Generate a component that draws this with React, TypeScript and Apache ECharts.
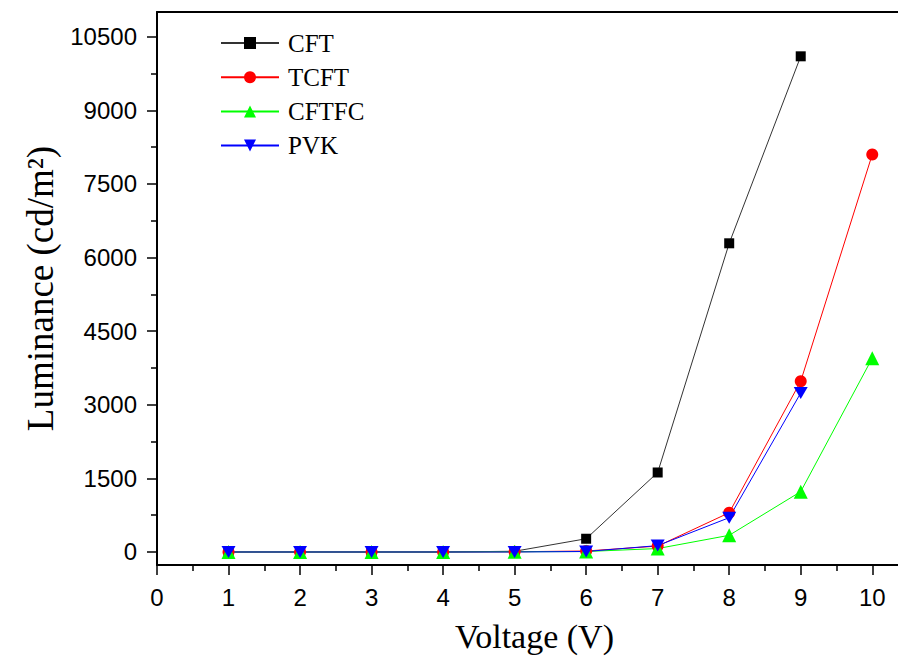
import React, { useEffect, useRef } from "react";
import * as echarts from "echarts";

const seriesNames = ["CFT", "TCFT", "CFTFC", "PVK"];
const voltagesShort = [1, 2, 3, 4, 5, 6, 7, 8, 9];
const voltagesLong = [1, 2, 3, 4, 5, 6, 7, 8, 9, 10];
const cftValues = [0, 0, 0, 0, 15, 270, 1620, 6290, 10100];
const tcftValues = [0, 0, 0, 0, 5, 20, 120, 800, 3480, 8100];
const cftfcValues = [0, 0, 0, 0, 5, 10, 70, 340, 1230, 3950];
const pvkValues = [0, 0, 0, 0, 0, 10, 130, 700, 3240];
const xTickLabels = [0, 1, 2, 3, 4, 5, 6, 7, 8, 9, 10];
const xMinorTicks = [0.5, 1.5, 2.5, 3.5, 4.5, 5.5, 6.5, 7.5, 8.5, 9.5];
const yTickLabels = [0, 1500, 3000, 4500, 6000, 7500, 9000, 10500];
const yMinorTicks = [750, 2250, 3750, 5250, 6750, 8250, 9750];

const pair = (xs: number[], ys: number[]) => xs.map((x, i) => [x, ys[i]]);

export default function App() {
  const ref = useRef<HTMLDivElement>(null);
  useEffect(() => {
    if (!ref.current) return;
    const chart = echarts.init(ref.current, null, { renderer: "svg" });
    const X_MIN = 0, X_MAX = 10.36, Y_MIN = -265, Y_MAX = 11003;
    const sans = "Liberation Sans";
    const serif = "Liberation Serif";
    const downTri = "path://M0,0L2,0L1,1.732Z";
    chart.setOption({
      animation: false,
      backgroundColor: "#fff",
      grid: { left: 157, right: 0, top: 12, bottom: 99, containLabel: false },
      legend: {
        left: 220,
        top: 30,
        padding: 0,
        orient: "vertical",
        itemWidth: 58,
        itemHeight: 15,
        itemGap: 8.2,
        textStyle: { fontFamily: serif, fontSize: 25, color: "#000", lineHeight: 26, padding: [0, 0, 0, 4] },
        data: seriesNames,
      },
      xAxis: [
        {
          type: "value",
          min: X_MIN,
          max: X_MAX,
          position: "bottom",
          name: "Voltage (V)",
          nameLocation: "middle",
          nameGap: 54,
          nameTextStyle: { fontFamily: serif, fontSize: 34, color: "#000", padding: [0, 0, 0, 14] },
          axisLine: { show: true, onZero: false, lineStyle: { color: "#000", width: 2 } },
          axisTick: { show: true, inside: false, length: 10, customValues: xTickLabels, lineStyle: { color: "#000", width: 1.5 } },
          axisLabel: {
            show: true,
            customValues: xTickLabels,
            margin: 20,
            fontFamily: sans,
            fontSize: 24,
            color: "#000",
            formatter: (v: number) => String(v),
          },
          splitLine: { show: false },
        },
        {
          type: "value",
          min: X_MIN,
          max: X_MAX,
          position: "bottom",
          axisLine: { show: false, onZero: false },
          axisTick: { show: true, length: 6, customValues: xMinorTicks, lineStyle: { color: "#000", width: 1.5 } },
          axisLabel: { show: false },
          splitLine: { show: false },
        },
        {
          type: "value",
          min: X_MIN,
          max: X_MAX,
          position: "top",
          axisLine: { show: true, onZero: false, lineStyle: { color: "#000", width: 2 } },
          axisTick: { show: false },
          axisLabel: { show: false },
          splitLine: { show: false },
        },
      ],
      yAxis: [
        {
          type: "value",
          min: Y_MIN,
          max: Y_MAX,
          position: "left",
          name: "Luminance (cd/m²)",
          nameLocation: "middle",
          nameGap: 98,
          nameRotate: 90,
          nameTextStyle: { fontFamily: serif, fontSize: 37, color: "#000" },
          axisLine: { show: true, onZero: false, lineStyle: { color: "#000", width: 2 } },
          axisTick: { show: true, inside: false, length: 10, customValues: yTickLabels, lineStyle: { color: "#000", width: 1.5 } },
          axisLabel: {
            show: true,
            customValues: yTickLabels,
            margin: 20,
            fontFamily: sans,
            fontSize: 24,
            color: "#000",
            formatter: (v: number) => String(v),
          },
          splitLine: { show: false },
        },
        {
          type: "value",
          min: Y_MIN,
          max: Y_MAX,
          position: "left",
          axisLine: { show: false, onZero: false },
          axisTick: { show: true, length: 6, customValues: yMinorTicks, lineStyle: { color: "#000", width: 1.5 } },
          axisLabel: { show: false },
          splitLine: { show: false },
        },
      ],
      series: [
        {
          name: "CFT",
          type: "line",
          data: pair(voltagesShort, cftValues),
          symbol: "rect",
          symbolSize: 10,
          clip: false,
          lineStyle: { color: "#333", width: 1 },
          itemStyle: { color: "#000" },
        },
        {
          name: "TCFT",
          type: "line",
          data: pair(voltagesLong, tcftValues),
          symbol: "circle",
          symbolSize: 12,
          clip: false,
          lineStyle: { color: "#ff0000", width: 1 },
          itemStyle: { color: "#ff0000" },
        },
        {
          name: "CFTFC",
          type: "line",
          data: pair(voltagesLong, cftfcValues),
          symbol: "triangle",
          symbolSize: 14,
          clip: false,
          lineStyle: { color: "#00ff00", width: 1 },
          itemStyle: { color: "#00ff00" },
        },
        {
          name: "PVK",
          type: "line",
          data: pair(voltagesShort, pvkValues),
          symbol: downTri,
          symbolSize: [14, 12],
          clip: false,
          lineStyle: { color: "#0000ff", width: 1 },
          itemStyle: { color: "#0000ff" },
        },
      ],
    });
    return () => chart.dispose();
  }, []);
  return (
    <div
      ref={ref}
      style={{ position: "fixed", left: 0, top: 0, width: 898, height: 664, background: "#fff" }}
    />
  );
}
